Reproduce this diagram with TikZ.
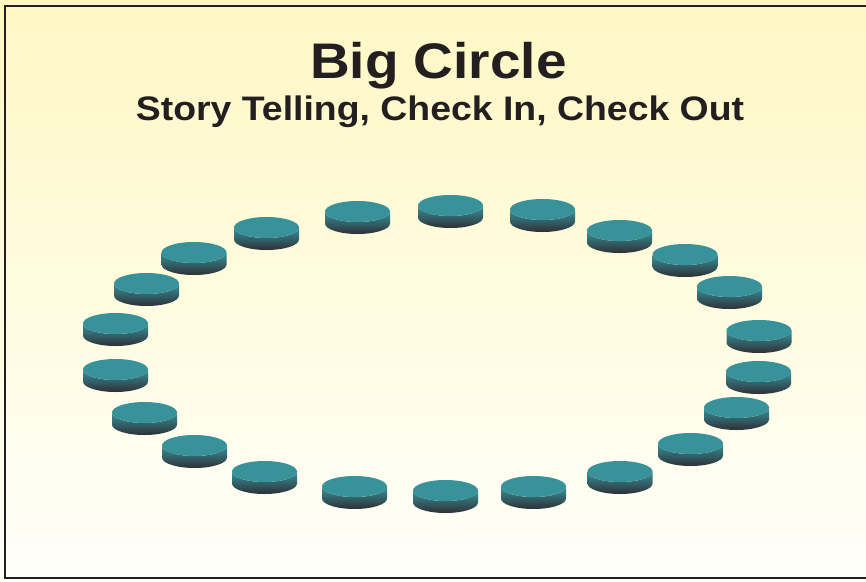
\documentclass[tikz,border=0pt]{standalone}
\usepackage{fontspec}
\newfontfamily\headfont[FakeStretch=1.1]{Liberation Sans}
\usepackage{tikz}

\definecolor{seatteal}{RGB}{56,146,154}
\definecolor{seatdark}{RGB}{46,48,54}
\definecolor{bgtop}{RGB}{255,247,196}
\definecolor{bgbottom}{RGB}{255,255,250}
\definecolor{ink}{RGB}{35,31,32}

\begin{document}
\begin{tikzpicture}[
        x=1pt, y=-1pt,
        heading/.style={anchor=base, text=ink, font=\headfont\bfseries\fontsize{50}{60}\selectfont},
        subheading/.style={anchor=base, text=ink, font=\headfont\bfseries\fontsize{34}{40}\selectfont},
        seatside/.style={top color=seatteal, bottom color=seatdark},
        seattop/.style={fill=seatteal}
    ]
    \useasboundingbox (0,0) rectangle (866,581);
    \clip (0,0) rectangle (866,581);
    \shade[top color=bgtop, bottom color=bgbottom] (0,0) rectangle (866,581);
    \draw[line width=2.5pt, ink] (5,6) rectangle (872,578);

    \node[heading] (title) at (438.5,78) {Big Circle};
    \node[subheading] (subtitle) at (440,120) {Story Telling, Check In, Check Out};

    % seats round the circle (centre x / top y)
    \foreach \x/\y in {357.5/201, 450.5/195, 542.5/199, 619.5/220, 685/244, 729.5/276,
                       759/320, 758.5/361, 736.5/397, 690.5/433, 620/461, 533.5/476,
                       445.5/480, 354.5/476, 264.5/461, 194.5/435, 144.5/402, 115.5/359,
                       115.5/313, 146.5/273, 194/242, 266.5/217} {
        \shade[seatside] (\x-32.5,\y+10.5) -- (\x-32.5,\y+22.5)
            arc[start angle=180, end angle=360, x radius=32.5pt, y radius=10.5pt]
            -- (\x+32.5,\y+10.5)
            arc[start angle=0, end angle=-180, x radius=32.5pt, y radius=10.5pt] -- cycle;
        \fill[seattop] (\x,\y+10.5) ellipse[x radius=32.5pt, y radius=10.5pt];
    }
\end{tikzpicture}
\end{document}
